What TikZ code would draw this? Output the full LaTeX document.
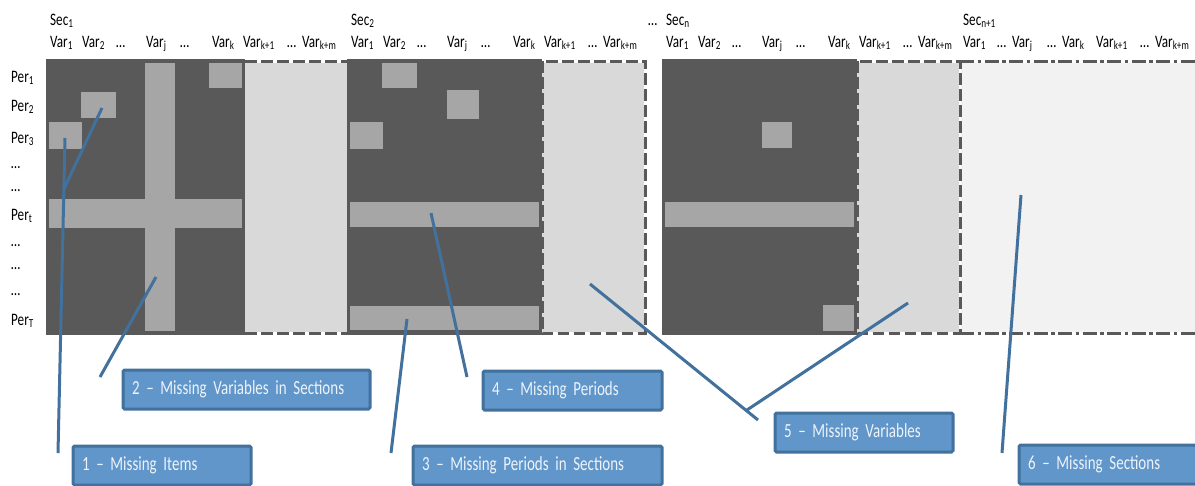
\documentclass[tikz,border=0pt]{standalone}
\usepackage{fontspec}
\setmainfont[FakeStretch=0.75,WordSpace=0.75]{Carlito}
\definecolor{cdark}{HTML}{595959}
\definecolor{cmiss}{HTML}{A6A6A6}
\definecolor{clight}{HTML}{D9D9D9}
\definecolor{cpale}{HTML}{F2F2F2}
\definecolor{cblue}{HTML}{6096C9}
\definecolor{cline}{HTML}{41719C}
\definecolor{ctext}{HTML}{EEF3FA}
\begin{document}
\begin{tikzpicture}[x=1pt,y=-1pt,
	hd/.style={anchor=base west,inner sep=0pt,font=\fontsize{17.5}{19}\selectfont},
	edge/.style={draw=cdark,line width=3pt,dash pattern=on 11.7pt off 4.3pt},
	edgedd/.style={draw=cdark,line width=3pt,dash pattern=on 14pt off 3.5pt on 3.5pt off 3.5pt},
	lead/.style={draw=cline,line width=3pt},
	callout/.style={draw=cline,fill=cblue,line width=3pt,rounded corners=1.5pt,text=ctext,
		anchor=north west,minimum height=39pt,inner xsep=9pt,align=left,text width=#1,
		font=\fontsize{20}{21}\selectfont}]
	\useasboundingbox (0,0) rectangle (1195,485);
	\clip (0,0) rectangle (1195,485);
	% variables missing in every section / missing section
	\fill[clight] (245,62.5) rectangle (347,331.5);
	\fill[clight] (542,62.5) rectangle (644,331.5);
	\fill[clight] (857,62.5) rectangle (959,331.5);
	\fill[cpale] (961,62.5) rectangle (1195,331.5);
	\draw[edge] (245,61)--(347,61);
	\draw[edge] (245,333.3)--(347,333.3);
	\draw[edge] (542,61) rectangle (645.5,333.3);
	\draw[edge] (857,61) rectangle (960,333.3);
	\draw[edgedd] (960,61)--(1197,61);
	\draw[edgedd] (960,333.3)--(1197,333.3);
	% observed data
	\fill[cdark] (46,59) rectangle (245,335);
	\fill[cdark] (347,59) rectangle (542,335);
	\fill[cdark] (662,59) rectangle (857,335);
	% missing cells
	\fill[cmiss] (209,63) rectangle (242,88);
	\fill[cmiss] (81,92) rectangle (116,118);
	\fill[cmiss] (49,122) rectangle (82,149);
	\fill[cmiss] (145,63) rectangle (175,331);
	\fill[cmiss] (49,199) rectangle (242,228);
	\fill[cmiss] (382,63) rectangle (417,88);
	\fill[cmiss] (447,90) rectangle (479,119);
	\fill[cmiss] (350,122) rectangle (383,149);
	\fill[cmiss] (350,202) rectangle (539,227);
	\fill[cmiss] (350,306) rectangle (539,330);
	\fill[cmiss] (762,122) rectangle (792,148);
	\fill[cmiss] (665,202) rectangle (854,227);
	\fill[cmiss] (823,305) rectangle (854,331);
	% headers
	\foreach \s/\n in {46/1,347/2,662/n}{
		\node[hd] (sec\n) at (\s+4,25) {Sec\textsubscript{\n}};
		\foreach \dx/\lab [count=\i] in {4/{Var\textsubscript{1}},36/{Var\textsubscript{2}},70/…,100/{Var\textsubscript{j}},134/…,166/{Var\textsubscript{k}},197/{Var\textsubscript{k+1}},241/…,256/{Var\textsubscript{k+m}}}
			\node[hd] (v\n-\i) at (\s+\dx,47) {\lab};
	}
	\node[hd] (secdots) at (648,25) {…};
	\node[hd] (secm) at (963,25) {Sec\textsubscript{n+1}};
	\foreach \x/\lab [count=\i] in {963/{Var\textsubscript{1}},997/…,1012/{Var\textsubscript{j}},1047/…,1062/{Var\textsubscript{k}},1096/{Var\textsubscript{k+1}},1140/…,1155/{Var\textsubscript{k+m}}}
		\node[hd] (vm-\i) at (\x,47) {\lab};
	\foreach \y/\lab [count=\i] in {82/{Per\textsubscript{1}},111/{Per\textsubscript{2}},143/{Per\textsubscript{3}},168/…,191/…,220/{Per\textsubscript{t}},246/…,269/…,295/…,325/{Per\textsubscript{T}}}
		\node[hd] (p\i) at (11,\y) {\lab};
	% leaders
	\coordinate (t1a) at (65,138);
	\coordinate (t1b) at (102,108);
	\coordinate (j1) at (63.5,190);
	\coordinate (e1) at (58,453);
	\coordinate (t2) at (156,277);
	\coordinate (e2) at (100,377);
	\coordinate (t3) at (407,319);
	\coordinate (e3) at (391,453);
	\coordinate (t4) at (431,213);
	\coordinate (e4) at (467,377);
	\coordinate (t5a) at (590,284);
	\coordinate (t5b) at (908,303);
	\coordinate (j5) at (747,410);
	\coordinate (e5) at (758,420);
	\coordinate (t6) at (1021,195);
	\coordinate (e6) at (1002,453);
	\draw[lead] (e1)--(t1a);
	\draw[lead] (j1)--(t1b);
	\draw[lead] (e2)--(t2);
	\draw[lead] (e3)--(t3);
	\draw[lead] (e4)--(t4);
	\draw[lead] (t5a)--(e5);
	\draw[lead] (t5b)--(j5);
	\draw[lead] (e6)--(t6);
	% callouts
	\node[callout=160pt] (m1) at (71.5,444.5) {1 – Missing Items};
	\node[callout=229pt] (m2) at (121.5,368.5) {2 – Missing Variables in Sections};
	\node[callout=231pt] (m3) at (411.5,444.5) {3 – Missing Periods in Sections};
	\node[callout=161pt] (m4) at (481.5,369.5) {4 – Missing Periods};
	\node[callout=160pt] (m5) at (773.5,411.5) {5 – Missing Variables};
	\node[callout=162pt] (m6) at (1017.5,443.5) {6 – Missing Sections};
\end{tikzpicture}
\end{document}
